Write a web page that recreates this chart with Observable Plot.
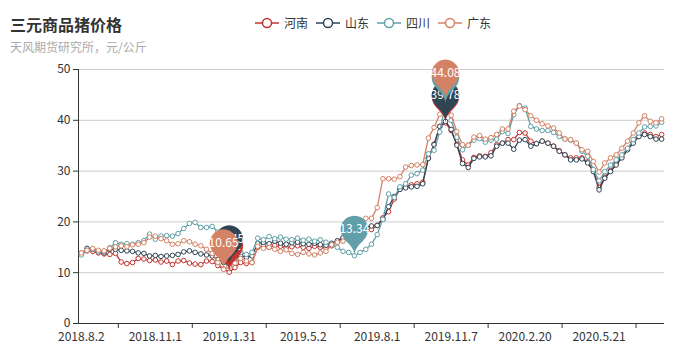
<!DOCTYPE html>
<html><head><meta charset="utf-8">
<script src="https://cdn.jsdelivr.net/npm/d3@7"></script>
<script src="https://cdn.jsdelivr.net/npm/@observablehq/plot@0.6"></script>
<style>
body{margin:0;background:#fff;font-family:"Noto Sans CJK SC","Noto Sans",sans-serif;}
#wrap{position:relative;width:700px;height:357px;overflow:hidden;}
#title{position:absolute;left:10px;top:14px;font-size:16px;font-weight:bold;color:#333;line-height:20px;}
#sub{position:absolute;left:10px;top:39px;font-size:12px;color:#aaa;line-height:16px;}
#legend{position:absolute;left:255px;top:15px;display:flex;align-items:center;font-size:12px;color:#333;line-height:16px;}
.item{display:flex;align-items:center;margin-right:8px;}
.item svg{margin-right:5px;}
</style></head>
<body>
<div id="wrap">
  <div id="chart"></div>
  <div id="title">三元商品猪价格</div>
  <div id="sub">天风期货研究所，元/公斤</div>
  <div id="legend"></div>
</div>
<script>
const dates = ["2018.8.2","2018.8.9","2018.8.16","2018.8.23","2018.8.30","2018.9.6","2018.9.13","2018.9.20","2018.9.27","2018.10.4",
"2018.10.11","2018.10.18","2018.10.25","2018.11.1","2018.11.8","2018.11.15","2018.11.22","2018.11.29","2018.12.6","2018.12.13",
"2018.12.20","2018.12.27","2019.1.3","2019.1.10","2019.1.17","2019.1.24","2019.1.31","2019.2.7","2019.2.14","2019.2.21",
"2019.2.28","2019.3.7","2019.3.14","2019.3.21","2019.3.28","2019.4.4","2019.4.11","2019.4.18","2019.4.25","2019.5.2",
"2019.5.9","2019.5.16","2019.5.23","2019.5.30","2019.6.6","2019.6.13","2019.6.20","2019.6.27","2019.7.4","2019.7.11",
"2019.7.18","2019.7.25","2019.8.1","2019.8.8","2019.8.15","2019.8.22","2019.8.29","2019.9.5","2019.9.12","2019.9.19",
"2019.9.26","2019.10.10","2019.10.17","2019.10.24","2019.10.31","2019.11.7","2019.11.14","2019.11.21","2019.11.28","2019.12.5",
"2019.12.12","2019.12.19","2019.12.26","2020.1.2","2020.1.9","2020.1.16","2020.2.6","2020.2.13","2020.2.20","2020.2.27",
"2020.3.5","2020.3.12","2020.3.19","2020.3.26","2020.4.2","2020.4.9","2020.4.16","2020.4.23","2020.4.30","2020.5.7",
"2020.5.14","2020.5.21","2020.5.28","2020.6.4","2020.6.11","2020.6.18","2020.6.25","2020.7.2","2020.7.9","2020.7.16",
"2020.7.23","2020.7.30","2020.8.6"];

const henan = [13.8,14.3,14.2,13.9,13.7,13.6,13.8,12.1,11.8,12.0,
12.8,12.7,12.4,12.5,12.1,12.3,11.6,12.3,12.4,11.9,
11.7,11.6,12.3,12.2,11.4,10.7,10.1,11.0,12.0,11.8,
12.0,15.0,15.3,15.0,15.4,15.2,14.9,15.1,15.3,15.0,
14.8,15.2,15.0,14.9,15.3,16.0,16.8,17.0,17.2,17.6,
18.3,18.5,19.3,20.8,22.0,24.5,26.5,27.0,27.3,27.5,
27.8,32.6,35.3,38.8,39.5,38.0,35.3,32.2,31.2,32.7,
33.0,32.9,33.6,35.2,35.5,36.2,36.2,37.6,37.5,35.9,
35.4,35.9,35.5,34.9,34.0,33.2,32.6,32.6,32.6,31.8,
30.2,26.8,28.8,30.1,31.4,32.8,34.3,35.6,36.9,37.5,
37.2,36.8,37.2];

const shandong = [13.8,14.8,14.6,14.1,13.9,14.6,14.6,14.4,14.3,14.2,
13.9,13.8,13.3,13.4,13.2,13.3,13.4,13.6,14.1,14.3,
14.0,13.7,13.5,13.3,12.6,12.0,11.45,12.8,13.3,13.0,
13.3,15.8,16.0,15.7,16.2,15.8,15.6,15.9,16.0,15.7,
15.6,15.8,15.5,15.4,15.8,16.3,16.9,17.3,17.8,18.5,
19.0,19.2,19.3,20.5,23.0,25.0,26.4,26.7,26.9,27.0,
27.5,32.5,35.2,38.8,39.78,38.2,35.1,31.5,30.7,32.5,
32.8,32.8,33.0,34.9,35.5,35.5,34.3,36.1,36.2,34.9,
35.4,35.9,35.5,34.9,33.9,33.2,32.2,32.2,32.4,31.6,
29.9,26.3,28.6,29.9,31.2,32.6,34.2,35.5,36.8,37.2,
36.8,36.3,36.3];

const sichuan = [13.5,14.4,14.6,14.1,14.2,14.9,15.9,15.6,15.7,15.6,
15.9,16.3,17.6,16.6,17.2,17.3,17.2,17.7,18.7,19.7,
19.9,18.9,18.9,19.1,18.0,16.5,14.5,13.8,14.0,13.6,
14.0,16.8,16.5,17.1,16.7,17.0,16.6,16.5,16.8,16.4,
16.6,16.2,16.5,16.0,15.5,15.0,14.2,14.0,13.34,14.0,
14.6,15.6,17.5,20.5,25.5,24.8,26.9,27.5,29.2,29.5,
30.2,33.4,34.1,37.7,43.3,40.0,36.7,34.2,35.1,36.1,
36.4,35.7,36.1,36.3,37.8,37.4,41.1,42.9,42.4,38.8,
38.3,38.0,38.0,37.6,36.8,36.3,36.1,35.5,33.9,32.9,
30.3,28.1,29.9,31.2,32.2,33.2,34.5,36.2,37.5,38.7,
38.8,38.9,39.6];

const guangdong = [13.9,14.4,14.8,14.4,14.3,14.8,15.1,15.3,15.1,15.5,
15.6,15.9,17.0,17.2,16.7,16.3,15.6,15.7,16.3,16.1,
15.6,15.3,14.6,13.8,12.0,10.65,11.2,11.9,12.8,12.3,
12.0,15.2,14.8,15.0,14.6,14.2,14.5,13.8,13.6,14.0,
13.7,13.5,13.9,14.2,15.5,16.0,16.2,17.0,18.5,19.8,
20.7,20.7,22.8,28.5,28.5,28.4,28.9,30.8,31.1,31.2,
31.3,36.5,38.6,41.2,44.08,41.0,37.8,35.2,35.1,36.7,
37.0,36.3,36.6,37.2,38.3,38.3,41.8,42.8,42.1,40.9,
40.0,39.3,38.9,38.5,37.5,36.3,36.2,35.5,34.2,33.9,
31.9,29.8,31.6,32.6,33.2,34.5,35.9,37.5,39.5,40.9,
39.8,39.5,40.3];

const seriesNames = ["河南","山东","四川","广东"];
const seriesColors = ["#c23531","#2f4554","#61a0a8","#d48265"];
const seriesValues = [henan, shandong, sichuan, guangdong];
const xLabelIndex = [0,13,26,39,52,65,78,91];
const yTicks = [0,10,20,30,40,50];

// legend
const legend = document.getElementById("legend");
seriesNames.forEach((n,k)=>{
  const it = document.createElement("div"); it.className="item";
  it.innerHTML = `<svg width="24" height="12"><line x1="0" x2="24" y1="6" y2="6" stroke="${seriesColors[k]}" stroke-width="1.5"/><circle cx="12" cy="6" r="4.5" fill="#fff" stroke="${seriesColors[k]}" stroke-width="1.5"/></svg><span>${n}</span>`;
  legend.appendChild(it);
});

const series = seriesNames.map((name,k)=>({name, color: seriesColors[k],
  rows: seriesValues[k].map((v,i)=>({i, v}))}));

// ECharts-style pin symbol, tip at (0,0)
const PIN_W = 46, PIN_H = 46;
const pinW = PIN_W/5*3, pinR = pinW/2, pinH = Math.max(pinW, PIN_H);
const pinDy = pinR*pinR/(pinH-pinR), pinCy = -pinH + pinR + pinDy;
const pinSymbol = {draw(ctx){
  const x=0, y=0, r=pinR, dy=pinDy, cy=pinCy; const a=Math.asin(dy/r);
  const dx=Math.cos(a)*r, tX=Math.sin(a), tY=Math.cos(a); const c1=r*0.6, c2=r*0.7;
  ctx.moveTo(x-dx, cy+dy);
  ctx.arc(x, cy, r, Math.PI-a, Math.PI*2+a);
  ctx.bezierCurveTo(x+dx-tX*c1, cy+dy+tY*c1, x, y-c2, x, y);
  ctx.bezierCurveTo(x, y-c2, x-dx+tX*c1, cy+dy+tY*c1, x-dx, cy+dy);
  ctx.closePath();
}};

const pins = [];
series.forEach(s=>{
  const vals = s.rows.map(d=>d.v);
  const iMax = d3.maxIndex(vals), iMin = d3.minIndex(vals);
  pins.push({i:iMax, v:vals[iMax], color:s.color});
  pins.push({i:iMin, v:vals[iMin], color:s.color});
});

const n = dates.length;
const marks = [
  Plot.gridY(yTicks.filter(t=>t>0), {stroke:"#ccc", strokeOpacity:1}),
  Plot.ruleY([0], {stroke:"#333", strokeWidth:1}),
  Plot.ruleX([-0.5], {stroke:"#333", strokeWidth:1}),
  Plot.axisY(yTicks, {tickSize:5, tickPadding:3, label:null, fontSize:12, stroke:"#333", fill:"#333"}),
  Plot.axisX(xLabelIndex.map(i=>i+6.5), {tickSize:5, tickFormat:()=>"", label:null, stroke:"#333"}),
  Plot.axisX(xLabelIndex, {tickSize:0, tickPadding:9, tickFormat:i=>dates[i], label:null, fontSize:12, fill:"#333"}),
];
series.forEach(s=>{
  marks.push(Plot.line(s.rows, {x:"i", y:"v", stroke:s.color, strokeWidth:1.3}));
  marks.push(Plot.dot(s.rows, {x:"i", y:"v", r:2.3, fill:"#fff", stroke:s.color, strokeWidth:1}));
});
pins.forEach(p=>{
  marks.push(Plot.dot([p], {x:"i", y:"v", symbol:pinSymbol, fill:p.color, stroke:"none", r:10}));
  marks.push(Plot.text([p], {x:"i", y:"v", text:d=>String(d.v), dy:pinCy, fill:"#fff", fontSize:12}));
});

const chart = Plot.plot({
  width:700, height:357,
  marginLeft:78, marginRight:36, marginTop:69, marginBottom:34,
  x:{type:"linear", domain:[-0.5, n-0.5]},
  y:{domain:[0,50]},
  style:{fontFamily:'"Noto Sans CJK SC","Noto Sans",sans-serif', fontSize:"12px", color:"#333", background:"#fff"},
  marks
});
document.getElementById("chart").appendChild(chart);
</script>
</body></html>
